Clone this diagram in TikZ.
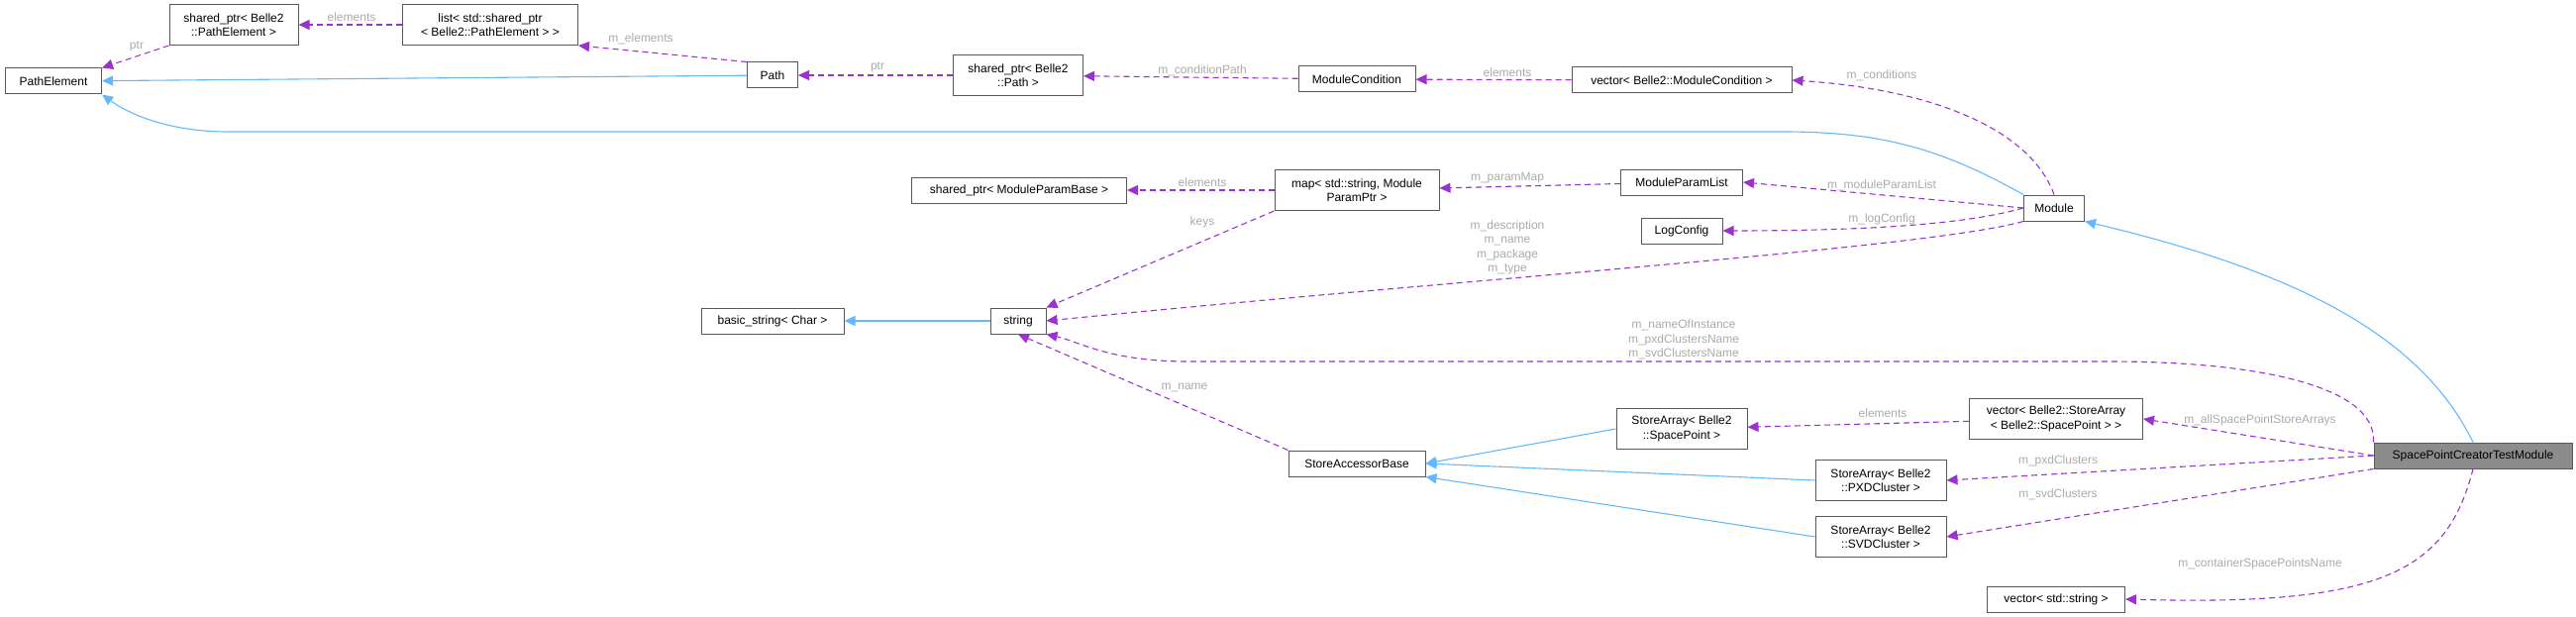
\documentclass[tikz,border=0pt]{standalone}
\usepackage{fontspec}
\setmainfont{Liberation Sans}
\usetikzlibrary{arrows.meta}
\definecolor{useColor}{HTML}{9A32CD}
\definecolor{baseColor}{HTML}{63B8FF}
\definecolor{labelColor}{HTML}{AAAAAA}
\begin{document}
\begin{tikzpicture}[x=1pt, y=-1pt,
  every node/.style={font=\fontsize{12}{14.5}\selectfont},
  classBox/.style={rectangle, draw=black!65, line width=1pt, align=center, minimum height=26pt, inner sep=2pt},
  twoLine/.style={classBox, minimum height=41pt},
  mainBox/.style={classBox, fill=black!45},
  useEdge/.style={useColor, dashed, dash pattern=on 6pt off 4pt, line width=1.1pt, -{Triangle[length=11pt,width=10pt]}},
  baseEdge/.style={baseColor, line width=1.1pt, -{Triangle[length=11pt,width=10pt]}},
  edgeLabel/.style={labelColor, align=center, inner sep=0pt}]
\useasboundingbox (0,0) rectangle (2601,623);
% classes
\node[classBox, minimum width=97pt](pathElement) at (54,82) {PathElement};
\node[twoLine, minimum width=130pt](spPathElement) at (236,25) {shared\_ptr< Belle2\\::PathElement >};
\node[twoLine, minimum width=177pt](listPathElement) at (495,25) {list< std::shared\_ptr\\< Belle2::PathElement > >};
\node[classBox, minimum width=51pt](path) at (780,76) {Path};
\node[twoLine, minimum width=131pt](spPath) at (1028,76) {shared\_ptr< Belle2\\::Path >};
\node[classBox, minimum width=118pt](moduleCondition) at (1370,80) {ModuleCondition};
\node[classBox, minimum width=222pt](vecModuleCondition) at (1698,81) {vector< Belle2::ModuleCondition >};
\node[classBox, minimum width=217pt](spParamBase) at (1029,192) {shared\_ptr< ModuleParamBase >};
\node[twoLine, minimum width=166pt](paramMap) at (1370,192) {map< std::string, Module\\ParamPtr >};
\node[classBox, minimum width=123pt](paramList) at (1698,184) {ModuleParamList};
\node[classBox, minimum width=82pt](logConfig) at (1698,233) {LogConfig};
\node[classBox, minimum width=61pt](module) at (2074,210) {Module};
\node[classBox, minimum width=144pt](basicString) at (780,324) {basic\_string< Char >};
\node[classBox, minimum width=56pt](string) at (1028,324) {string};
\node[classBox, minimum width=138pt](accessorBase) at (1370,468) {StoreAccessorBase};
\node[twoLine, minimum width=132pt](arraySpacePoint) at (1698,433) {StoreArray< Belle2\\::SpacePoint >};
\node[twoLine, minimum width=175pt](vecStoreArray) at (2076,423) {vector< Belle2::StoreArray\\< Belle2::SpacePoint > >};
\node[twoLine, minimum width=132pt](arrayPXD) at (1899,485) {StoreArray< Belle2\\::PXDCluster >};
\node[twoLine, minimum width=132pt](arraySVD) at (1899,542) {StoreArray< Belle2\\::SVDCluster >};
\node[classBox, minimum width=139pt](vecString) at (2076,605) {vector< std::string >};
\node[mainBox, minimum width=200pt](testModule) at (2497,460) {SpacePointCreatorTestModule};

% inheritance
\draw[baseEdge] (path) -- (pathElement);
\draw[baseEdge] (module.north west) .. controls (1960,150) and (1900,133) .. (1800,133) -- (230,133) .. controls (170,133) and (130,115) .. (pathElement.south east);
\draw[baseEdge] (testModule.north) .. controls (2440,330) and (2300,270) .. (module.south east);
\draw[baseEdge] (string) -- (basicString);
\draw[baseEdge] (arraySpacePoint.west) -- (accessorBase.east);
\draw[baseEdge] (arrayPXD.west) -- (accessorBase.east);
\draw[baseEdge] (arraySVD.west) -- (accessorBase.south east);

% members
\draw[useEdge] (spPathElement.south west) -- (pathElement.north east);
\draw[useEdge] (listPathElement) -- (spPathElement);
\draw[useEdge] (path.north west) -- (listPathElement.south east);
\draw[useEdge] (spPath) -- (path);
\draw[useEdge] (moduleCondition) -- (spPath);
\draw[useEdge] (vecModuleCondition) -- (moduleCondition);
\draw[useEdge] (module.north) .. controls (2050,130) and (1950,90) .. (vecModuleCondition.east);
\draw[useEdge] (paramMap) -- (spParamBase);
\draw[useEdge] (paramList) -- (paramMap);
\draw[useEdge] (module.west) -- (paramList.east);
\draw[useEdge] (module.west) .. controls (1990,225) and (1900,233) .. (logConfig.east);
\draw[useEdge] (module.south west) .. controls (1950,250) and (1500,280) .. (string.east);
\draw[useEdge] (paramMap.south west) -- (string.north east);
\draw[useEdge] (testModule.north west) .. controls (2400,390) and (2280,365) .. (2130,365) -- (1200,365) .. controls (1120,365) and (1090,345) .. (string.south east);
\draw[useEdge] (accessorBase.north west) -- (string.south);
\draw[useEdge] (vecStoreArray) -- (arraySpacePoint);
\draw[useEdge] (testModule.west) -- (vecStoreArray.east);
\draw[useEdge] (testModule.west) -- (arrayPXD.east);
\draw[useEdge] (testModule.south west) -- (arraySVD.east);
\draw[useEdge] (testModule.south) .. controls (2470,580) and (2400,612) .. (vecString.east);

% member names
\node[edgeLabel](lblPtrA) at (138,47) {ptr};
\node[edgeLabel](lblElemA) at (355,17) {elements};
\node[edgeLabel](lblElemList) at (647,39) {m\_elements};
\node[edgeLabel](lblPtrB) at (886,68) {ptr};
\node[edgeLabel](lblCondPath) at (1214,71) {m\_conditionPath};
\node[edgeLabel](lblElemB) at (1522,73) {elements};
\node[edgeLabel](lblConditions) at (1900,76) {m\_conditions};
\node[edgeLabel](lblElemC) at (1214,184) {elements};
\node[edgeLabel](lblParamMap) at (1522,180) {m\_paramMap};
\node[edgeLabel](lblParamList) at (1900,187) {m\_moduleParamList};
\node[edgeLabel](lblLogConfig) at (1900,221) {m\_logConfig};
\node[edgeLabel](lblKeys) at (1214,224) {keys};
\node[edgeLabel](lblStrings) at (1522,250) {m\_description\\m\_name\\m\_package\\m\_type};
\node[edgeLabel](lblTestStrings) at (1700,343) {m\_nameOfInstance\\m\_pxdClustersName\\m\_svdClustersName};
\node[edgeLabel](lblName) at (1196,391) {m\_name};
\node[edgeLabel](lblElemD) at (1901,417) {elements};
\node[edgeLabel](lblAllArrays) at (2282,424) {m\_allSpacePointStoreArrays};
\node[edgeLabel](lblPXD) at (2078,465) {m\_pxdClusters};
\node[edgeLabel](lblSVD) at (2078,499) {m\_svdClusters};
\node[edgeLabel](lblContainer) at (2282,569) {m\_containerSpacePointsName};
\end{tikzpicture}
\end{document}
